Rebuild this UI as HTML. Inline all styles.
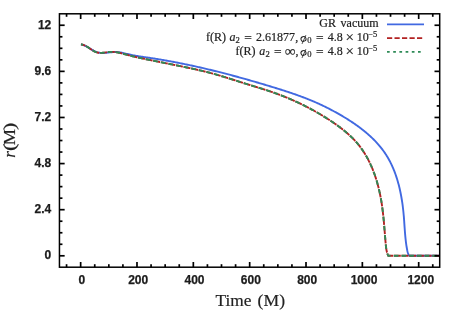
<!DOCTYPE html>
<html><head><meta charset="utf-8"><style>
html,body{margin:0;padding:0;background:#fff;}
svg{display:block;will-change:transform;opacity:0.9999;}
.tk{font-family:"Liberation Sans",sans-serif;font-weight:bold;font-size:12px;fill:#1c1c1c;stroke:#1c1c1c;stroke-width:0.25px;}
.sf{font-family:"Liberation Serif",serif;fill:#222;}
</style></head><body>
<svg width="464" height="330" viewBox="0 0 464 330">
<rect width="464" height="330" fill="#fff"/>
<g fill="none" stroke-linejoin="round" stroke-linecap="butt">
<path d="M80.98,44.36 L81.92,44.57 L82.84,44.85 L83.75,45.19 L84.64,45.57 L85.54,46.00 L86.42,46.47 L87.30,46.96 L88.17,47.48 L89.04,48.01 L89.91,48.54 L90.78,49.08 L91.66,49.61 L92.53,50.12 L93.41,50.61 L94.30,51.07 L95.20,51.49 L96.10,51.87 L97.02,52.19 L97.95,52.46 L98.89,52.66 L99.84,52.81 L100.80,52.91 L101.78,52.96 L102.76,52.98 L103.75,52.96 L104.75,52.91 L105.75,52.83 L106.76,52.74 L107.77,52.64 L108.78,52.53 L109.80,52.42 L110.81,52.31 L111.83,52.21 L112.84,52.13 L113.85,52.06 L114.86,52.03 L115.86,52.02 L116.86,52.05 L117.85,52.12 L118.83,52.22 L119.82,52.35 L120.79,52.51 L121.77,52.69 L122.74,52.88 L123.71,53.10 L124.68,53.33 L125.64,53.56 L126.61,53.80 L127.58,54.04 L128.55,54.28 L129.52,54.51 L130.49,54.74 L131.46,54.95 L132.44,55.15 L133.42,55.35 L134.40,55.53 L135.38,55.71 L136.37,55.88 L137.36,56.04 L138.34,56.20 L139.33,56.36 L140.32,56.51 L141.31,56.65 L142.30,56.80 L143.30,56.94 L144.29,57.08 L145.28,57.22 L146.27,57.36 L147.26,57.51 L148.25,57.65 L149.25,57.80 L150.24,57.94 L151.23,58.09 L152.21,58.25 L153.20,58.40 L154.19,58.55 L155.18,58.71 L156.17,58.87 L157.16,59.03 L158.14,59.19 L159.13,59.35 L160.12,59.51 L161.10,59.68 L162.09,59.85 L163.08,60.02 L164.06,60.19 L165.05,60.36 L166.03,60.53 L167.01,60.71 L168.00,60.88 L168.98,61.06 L169.97,61.24 L170.95,61.42 L171.93,61.60 L172.91,61.79 L173.89,61.97 L174.88,62.16 L175.86,62.35 L176.84,62.54 L177.82,62.73 L178.80,62.92 L179.78,63.11 L180.76,63.31 L181.74,63.51 L182.72,63.70 L183.70,63.90 L184.67,64.10 L185.65,64.31 L186.63,64.51 L187.61,64.71 L188.59,64.92 L189.56,65.13 L190.54,65.34 L191.52,65.55 L192.49,65.76 L193.47,65.97 L194.44,66.19 L195.42,66.40 L196.39,66.62 L197.37,66.84 L198.34,67.06 L199.32,67.28 L200.29,67.50 L201.26,67.72 L202.24,67.94 L203.21,68.17 L204.18,68.40 L205.15,68.62 L206.13,68.85 L207.10,69.08 L208.07,69.31 L209.04,69.55 L210.01,69.78 L210.98,70.02 L211.95,70.25 L212.92,70.49 L213.90,70.73 L214.87,70.97 L215.83,71.21 L216.80,71.45 L217.77,71.69 L218.74,71.94 L219.71,72.18 L220.68,72.43 L221.65,72.67 L222.62,72.92 L223.58,73.17 L224.55,73.42 L225.52,73.67 L226.49,73.93 L227.45,74.18 L228.42,74.43 L229.39,74.69 L230.35,74.95 L231.32,75.20 L232.29,75.46 L233.25,75.72 L234.22,75.98 L235.18,76.24 L236.15,76.50 L237.11,76.77 L238.08,77.03 L239.04,77.30 L240.01,77.56 L240.97,77.83 L241.94,78.10 L242.90,78.37 L243.86,78.64 L244.83,78.91 L245.79,79.18 L246.75,79.45 L247.72,79.72 L248.68,80.00 L249.64,80.27 L250.60,80.55 L251.57,80.82 L252.53,81.10 L253.49,81.38 L254.45,81.66 L255.41,81.94 L256.38,82.22 L257.34,82.50 L258.30,82.78 L259.26,83.06 L260.22,83.35 L261.18,83.63 L262.14,83.92 L263.10,84.20 L264.06,84.49 L265.02,84.78 L265.98,85.06 L266.94,85.35 L267.90,85.64 L268.86,85.93 L269.82,86.22 L270.78,86.51 L271.74,86.81 L272.70,87.10 L273.66,87.39 L274.62,87.69 L275.58,87.98 L276.53,88.28 L277.49,88.58 L278.45,88.88 L279.41,89.18 L280.36,89.48 L281.32,89.78 L282.27,90.08 L283.23,90.39 L284.18,90.70 L285.14,91.01 L286.09,91.32 L287.04,91.63 L287.99,91.94 L288.94,92.26 L289.89,92.58 L290.84,92.89 L291.79,93.22 L292.73,93.54 L293.68,93.87 L294.62,94.19 L295.57,94.52 L296.51,94.86 L297.45,95.19 L298.39,95.53 L299.33,95.87 L300.27,96.21 L301.20,96.56 L302.14,96.91 L303.07,97.26 L304.00,97.61 L304.93,97.97 L305.86,98.33 L306.79,98.69 L307.72,99.06 L308.64,99.42 L309.56,99.80 L310.48,100.17 L311.40,100.55 L312.32,100.93 L313.24,101.32 L314.15,101.71 L315.06,102.10 L315.97,102.50 L316.88,102.90 L317.79,103.30 L318.69,103.71 L319.60,104.12 L320.50,104.54 L321.39,104.96 L322.29,105.38 L323.18,105.81 L324.08,106.24 L324.97,106.67 L325.86,107.11 L326.74,107.56 L327.63,108.01 L328.51,108.46 L329.40,108.91 L330.28,109.37 L331.16,109.83 L332.04,110.30 L332.92,110.77 L333.80,111.24 L334.68,111.72 L335.55,112.20 L336.43,112.69 L337.30,113.18 L338.18,113.67 L339.05,114.16 L339.93,114.66 L340.80,115.17 L341.67,115.68 L342.54,116.19 L343.41,116.70 L344.28,117.22 L345.14,117.75 L346.01,118.28 L346.87,118.81 L347.73,119.34 L348.58,119.88 L349.44,120.43 L350.29,120.98 L351.14,121.53 L351.98,122.09 L352.83,122.65 L353.67,123.22 L354.50,123.79 L355.33,124.37 L356.16,124.95 L356.99,125.54 L357.81,126.13 L358.63,126.72 L359.44,127.32 L360.25,127.93 L361.05,128.54 L361.85,129.16 L362.64,129.78 L363.43,130.40 L364.22,131.03 L365.00,131.67 L365.77,132.31 L366.54,132.96 L367.30,133.61 L368.06,134.27 L368.81,134.93 L369.55,135.60 L370.29,136.27 L371.02,136.95 L371.75,137.64 L372.46,138.33 L373.18,139.03 L373.88,139.73 L374.58,140.44 L375.27,141.15 L375.95,141.87 L376.62,142.60 L377.29,143.33 L377.95,144.07 L378.60,144.81 L379.24,145.56 L379.88,146.32 L380.50,147.08 L381.12,147.85 L381.73,148.62 L382.33,149.41 L382.92,150.20 L383.50,150.99 L384.07,151.79 L384.63,152.60 L385.19,153.41 L385.73,154.24 L386.26,155.06 L386.79,155.90 L387.30,156.74 L387.80,157.59 L388.30,158.44 L388.78,159.30 L389.26,160.17 L389.72,161.04 L390.18,161.91 L390.62,162.80 L391.06,163.69 L391.49,164.58 L391.91,165.48 L392.32,166.38 L392.73,167.29 L393.12,168.21 L393.50,169.12 L393.88,170.05 L394.25,170.97 L394.61,171.91 L394.96,172.84 L395.31,173.78 L395.64,174.73 L395.97,175.67 L396.29,176.63 L396.61,177.58 L396.91,178.54 L397.21,179.50 L397.50,180.47 L397.78,181.43 L398.06,182.40 L398.33,183.38 L398.59,184.35 L398.84,185.33 L399.09,186.31 L399.33,187.30 L399.57,188.28 L399.79,189.27 L400.01,190.26 L400.23,191.25 L400.44,192.24 L400.64,193.24 L400.84,194.23 L401.03,195.23 L401.21,196.23 L401.39,197.23 L401.56,198.22 L401.73,199.22 L401.89,200.23 L402.05,201.23 L402.20,202.23 L402.34,203.23 L402.48,204.23 L402.62,205.23 L402.75,206.23 L402.87,207.24 L402.99,208.24 L403.11,209.24 L403.22,210.24 L403.33,211.23 L403.43,212.23 L403.53,213.23 L403.62,214.22 L403.71,215.22 L403.80,216.21 L403.88,217.20 L403.96,218.19 L404.03,219.18 L404.10,220.17 L404.18,221.15 L404.24,222.14 L404.31,223.12 L404.38,224.11 L404.45,225.09 L404.51,226.08 L404.58,227.06 L404.65,228.04 L404.72,229.02 L404.79,230.00 L404.86,230.99 L404.94,231.97 L405.01,232.95 L405.09,233.93 L405.18,234.92 L405.27,235.90 L405.36,236.88 L405.46,237.87 L405.56,238.85 L405.67,239.84 L405.78,240.82 L405.90,241.81 L406.03,242.80 L406.16,243.79 L406.30,244.78 L406.45,245.77 L406.61,246.77 L406.78,247.76 L406.95,248.76 L407.14,249.76 L407.34,250.75 L407.57,251.73 L407.84,252.70 L408.15,253.65 L408.52,254.57 L408.94,255.45 L409.50,255.80 L439.70,255.80" stroke="#4169e1" stroke-width="1.9"/>
<path d="M80.97,44.42 L81.46,44.48 L81.96,44.55 L82.44,44.67 L82.93,44.79 L83.40,44.94 L83.88,45.10 L84.34,45.29 L84.80,45.49 L85.25,45.70 L85.25,45.70 M85.87,46.02 L86.31,46.26 L86.74,46.51 L87.17,46.77 L87.60,47.03 L88.02,47.30 L88.44,47.58 L88.85,47.85 L89.27,48.13 L89.68,48.42 L90.09,48.70 L90.51,48.98 L90.92,49.26 L91.34,49.54 L91.75,49.81 L92.01,49.97 M92.68,50.40 L93.11,50.66 L93.54,50.91 L93.98,51.15 L94.42,51.39 L94.87,51.61 L95.33,51.82 L95.79,52.01 L96.25,52.19 L96.73,52.35 L97.21,52.48 L97.69,52.60 L98.18,52.70 L98.68,52.77 L99.18,52.82 L99.28,52.83 M100.07,52.88 L100.57,52.89 L101.07,52.88 L101.57,52.86 L102.07,52.83 L102.57,52.79 L103.07,52.75 L103.57,52.69 L104.06,52.63 L104.56,52.57 L105.05,52.50 L105.55,52.43 L106.04,52.36 L106.54,52.30 L106.93,52.24 M107.73,52.14 L108.22,52.08 L108.72,52.02 L109.22,51.97 L109.72,51.93 L110.22,51.90 L110.72,51.88 L111.22,51.87 L111.72,51.86 L112.22,51.87 L112.72,51.88 L113.21,51.91 L113.71,51.94 L114.21,51.98 L114.71,52.03 L114.71,52.03 M115.40,52.11 L115.90,52.17 L116.40,52.25 L116.89,52.32 L117.38,52.41 L117.87,52.50 L118.36,52.60 L118.85,52.70 L119.34,52.80 L119.83,52.91 L120.32,53.03 L120.80,53.14 L121.29,53.26 L121.77,53.39 L122.26,53.51 L122.26,53.51 M123.03,53.72 L123.51,53.85 L124.00,53.98 L124.48,54.11 L124.96,54.25 L125.44,54.38 L125.92,54.51 L126.40,54.65 L126.89,54.78 L127.37,54.91 L127.85,55.04 L128.33,55.17 L128.82,55.30 L129.30,55.43 L129.79,55.55 L129.79,55.55 M130.46,55.73 L130.95,55.85 L131.43,55.97 L131.92,56.09 L132.40,56.21 L132.89,56.33 L133.38,56.44 L133.86,56.56 L134.35,56.67 L134.84,56.79 L135.32,56.90 L135.81,57.01 L136.30,57.13 L136.79,57.24 L137.27,57.35 L137.37,57.37 M138.05,57.52 L138.54,57.63 L139.03,57.74 L139.52,57.84 L140.01,57.95 L140.50,58.05 L140.99,58.16 L141.47,58.26 L141.96,58.37 L142.45,58.47 L142.94,58.57 L143.43,58.68 L143.92,58.78 L144.41,58.88 L144.90,58.98 L144.90,58.98 M145.68,59.14 L146.17,59.24 L146.66,59.35 L147.15,59.45 L147.64,59.55 L148.13,59.65 L148.62,59.75 L149.11,59.85 L149.60,59.95 L150.09,60.05 L150.58,60.15 L151.07,60.25 L151.56,60.35 L152.05,60.45 L152.54,60.54 L152.54,60.54 M153.23,60.68 L153.72,60.78 L154.21,60.88 L154.70,60.98 L155.19,61.08 L155.68,61.18 L156.17,61.28 L156.66,61.38 L157.15,61.48 L157.64,61.57 L158.13,61.67 L158.62,61.77 L159.11,61.87 L159.60,61.97 L160.09,62.07 L160.09,62.07 M160.87,62.23 L161.36,62.32 L161.85,62.42 L162.34,62.52 L162.83,62.62 L163.32,62.72 L163.82,62.82 L164.31,62.91 L164.80,63.01 L165.29,63.11 L165.78,63.21 L166.27,63.31 L166.76,63.41 L167.25,63.51 L167.74,63.60 L167.74,63.60 M168.42,63.74 L168.91,63.84 L169.40,63.94 L169.89,64.04 L170.38,64.14 L170.87,64.24 L171.36,64.34 L171.85,64.43 L172.34,64.53 L172.83,64.63 L173.32,64.73 L173.81,64.83 L174.30,64.93 L174.79,65.03 L175.28,65.13 L175.28,65.13 M176.07,65.29 L176.56,65.39 L177.05,65.49 L177.54,65.59 L178.03,65.69 L178.52,65.79 L179.01,65.89 L179.50,65.99 L179.99,66.09 L180.48,66.19 L180.97,66.29 L181.46,66.39 L181.95,66.49 L182.44,66.59 L182.83,66.67 M183.61,66.84 L184.10,66.94 L184.59,67.04 L185.08,67.14 L185.57,67.24 L186.06,67.34 L186.55,67.45 L187.04,67.55 L187.53,67.65 L188.02,67.75 L188.51,67.86 L188.99,67.96 L189.48,68.07 L189.97,68.17 L190.46,68.27 L190.46,68.27 M191.24,68.44 L191.73,68.55 L192.22,68.65 L192.71,68.76 L193.20,68.86 L193.69,68.97 L194.18,69.08 L194.66,69.18 L195.15,69.29 L195.64,69.40 L196.13,69.51 L196.62,69.62 L197.10,69.73 L197.59,69.84 L198.08,69.95 L198.08,69.95 M198.76,70.10 L199.25,70.22 L199.74,70.33 L200.22,70.44 L200.71,70.56 L201.20,70.67 L201.68,70.78 L202.17,70.90 L202.66,71.02 L203.14,71.13 L203.63,71.25 L204.11,71.37 L204.60,71.49 L205.09,71.61 L205.57,71.73 L205.57,71.73 M206.35,71.92 L206.83,72.04 L207.32,72.16 L207.80,72.29 L208.29,72.41 L208.77,72.54 L209.25,72.66 L209.74,72.79 L210.22,72.92 L210.70,73.05 L211.19,73.18 L211.67,73.31 L212.15,73.44 L212.64,73.57 L213.12,73.70 L213.12,73.70 M213.89,73.91 L214.37,74.05 L214.85,74.18 L215.33,74.32 L215.81,74.46 L216.29,74.59 L216.78,74.73 L217.26,74.87 L217.74,75.01 L218.22,75.15 L218.70,75.29 L219.18,75.43 L219.66,75.57 L220.14,75.71 L220.61,75.85 L220.61,75.85 M221.38,76.08 L221.86,76.23 L222.34,76.37 L222.82,76.51 L223.30,76.66 L223.77,76.81 L224.25,76.95 L224.73,77.10 L225.21,77.24 L225.69,77.39 L226.16,77.54 L226.64,77.69 L227.12,77.83 L227.60,77.98 L228.07,78.13 L228.07,78.13 M228.84,78.37 L229.31,78.52 L229.79,78.67 L230.27,78.82 L230.75,78.97 L231.22,79.12 L231.70,79.27 L232.18,79.42 L232.65,79.57 L233.13,79.72 L233.61,79.88 L234.08,80.03 L234.56,80.18 L235.04,80.33 L235.51,80.48 L235.51,80.48 M236.27,80.72 L236.75,80.88 L237.23,81.03 L237.70,81.18 L238.18,81.33 L238.66,81.48 L239.13,81.63 L239.61,81.79 L240.09,81.94 L240.56,82.09 L241.04,82.24 L241.51,82.39 L241.99,82.54 L242.47,82.70 L242.94,82.85 L242.94,82.85 M243.71,83.09 L244.18,83.24 L244.66,83.39 L245.14,83.54 L245.61,83.69 L246.09,83.84 L246.57,83.99 L247.05,84.14 L247.52,84.29 L248.00,84.43 L248.48,84.58 L248.96,84.73 L249.43,84.88 L249.91,85.03 L250.39,85.17 L250.39,85.17 M251.15,85.41 L251.63,85.56 L252.11,85.70 L252.59,85.85 L253.07,86.00 L253.54,86.14 L254.02,86.29 L254.50,86.44 L254.98,86.58 L255.46,86.73 L255.93,86.88 L256.41,87.03 L256.89,87.17 L257.37,87.32 L257.84,87.47 L257.94,87.50 M258.61,87.70 L259.09,87.85 L259.56,88.00 L260.04,88.15 L260.52,88.30 L261.00,88.45 L261.47,88.60 L261.95,88.75 L262.43,88.90 L262.90,89.05 L263.38,89.20 L263.86,89.35 L264.33,89.50 L264.81,89.65 L265.29,89.81 L265.38,89.84 M266.05,90.05 L266.52,90.21 L267.00,90.36 L267.47,90.52 L267.95,90.67 L268.42,90.83 L268.90,90.99 L269.37,91.15 L269.85,91.31 L270.32,91.47 L270.79,91.63 L271.27,91.79 L271.74,91.95 L272.21,92.11 L272.68,92.28 L272.78,92.31 M273.53,92.57 L274.00,92.74 L274.48,92.91 L274.95,93.07 L275.42,93.24 L275.89,93.41 L276.36,93.58 L276.83,93.76 L277.30,93.93 L277.77,94.10 L278.23,94.27 L278.70,94.45 L279.17,94.63 L279.64,94.80 L280.11,94.98 L280.11,94.98 M280.85,95.27 L281.32,95.45 L281.79,95.63 L282.25,95.81 L282.72,95.99 L283.18,96.17 L283.65,96.36 L284.11,96.54 L284.58,96.73 L285.04,96.92 L285.50,97.10 L285.97,97.29 L286.43,97.48 L286.89,97.67 L287.35,97.86 L287.45,97.90 M288.18,98.21 L288.65,98.40 L289.11,98.60 L289.57,98.79 L290.03,98.99 L290.49,99.19 L290.95,99.38 L291.40,99.58 L291.86,99.78 L292.32,99.98 L292.78,100.18 L293.24,100.39 L293.69,100.59 L294.15,100.79 L294.60,101.00 L294.70,101.04 M295.42,101.37 L295.88,101.58 L296.33,101.78 L296.79,101.99 L297.24,102.20 L297.70,102.41 L298.15,102.63 L298.60,102.84 L299.05,103.05 L299.51,103.27 L299.96,103.48 L300.41,103.70 L300.86,103.91 L301.31,104.13 L301.76,104.35 L301.85,104.39 M302.57,104.75 L303.01,104.97 L303.46,105.19 L303.91,105.41 L304.36,105.64 L304.80,105.86 L305.25,106.09 L305.70,106.31 L306.14,106.54 L306.59,106.77 L307.03,107.00 L307.48,107.22 L307.92,107.46 L308.36,107.69 L308.81,107.92 L308.98,108.01 M309.69,108.39 L310.13,108.62 L310.57,108.86 L311.01,109.09 L311.45,109.33 L311.89,109.57 L312.33,109.81 L312.77,110.05 L313.21,110.29 L313.65,110.53 L314.08,110.77 L314.52,111.02 L314.96,111.26 L315.39,111.51 L315.83,111.75 L316.00,111.85 M316.70,112.25 L317.13,112.49 L317.56,112.74 L318.00,112.99 L318.43,113.24 L318.86,113.50 L319.29,113.75 L319.72,114.00 L320.15,114.26 L320.58,114.51 L321.01,114.77 L321.44,115.02 L321.87,115.28 L322.30,115.54 L322.73,115.80 L322.90,115.90 M323.58,116.32 L324.01,116.58 L324.43,116.85 L324.86,117.11 L325.28,117.37 L325.70,117.64 L326.13,117.91 L326.55,118.17 L326.97,118.44 L327.39,118.71 L327.82,118.98 L328.24,119.25 L328.66,119.52 L329.08,119.79 L329.50,120.06 L329.75,120.23 M330.42,120.67 L330.83,120.94 L331.25,121.22 L331.67,121.50 L332.08,121.77 L332.50,122.05 L332.91,122.33 L333.32,122.61 L333.74,122.90 L334.15,123.18 L334.56,123.46 L334.97,123.75 L335.38,124.03 L335.79,124.32 L336.20,124.61 L336.44,124.78 M337.10,125.25 L337.50,125.54 L337.91,125.83 L338.31,126.13 L338.71,126.42 L339.12,126.72 L339.52,127.02 L339.92,127.32 L340.32,127.62 L340.72,127.92 L341.11,128.22 L341.51,128.53 L341.91,128.83 L342.30,129.14 L342.69,129.45 L343.01,129.70 M343.63,130.20 L344.02,130.51 L344.41,130.83 L344.80,131.14 L345.18,131.46 L345.57,131.78 L345.95,132.10 L346.33,132.43 L346.71,132.75 L347.09,133.08 L347.47,133.40 L347.84,133.74 L348.22,134.07 L348.59,134.40 L348.96,134.73 L349.33,135.07 L349.33,135.07 M349.92,135.61 L350.28,135.95 L350.65,136.30 L351.01,136.64 L351.37,136.99 L351.73,137.34 L352.09,137.69 L352.44,138.04 L352.79,138.39 L353.15,138.75 L353.50,139.11 L353.84,139.46 L354.19,139.83 L354.53,140.19 L354.87,140.56 L355.21,140.92 L355.28,141.00 M355.82,141.59 L356.15,141.96 L356.48,142.34 L356.81,142.71 L357.14,143.09 L357.46,143.47 L357.78,143.85 L358.10,144.24 L358.42,144.63 L358.73,145.02 L359.05,145.41 L359.36,145.80 L359.66,146.19 L359.97,146.59 L360.27,146.99 L360.57,147.39 L360.69,147.55 M361.16,148.19 L361.45,148.60 L361.74,149.01 L362.03,149.42 L362.32,149.83 L362.60,150.24 L362.88,150.65 L363.16,151.07 L363.43,151.49 L363.71,151.90 L363.98,152.32 L364.25,152.75 L364.51,153.17 L364.78,153.59 L365.04,154.02 L365.30,154.45 L365.50,154.79 M365.96,155.57 L366.21,156.00 L366.46,156.43 L366.71,156.87 L366.95,157.30 L367.19,157.74 L367.43,158.18 L367.67,158.62 L367.90,159.06 L368.14,159.50 L368.37,159.95 L368.60,160.39 L368.82,160.84 L369.05,161.28 L369.27,161.73 L369.49,162.18 L369.71,162.63 L369.71,162.63 M370.09,163.44 L370.31,163.90 L370.52,164.35 L370.72,164.81 L370.93,165.26 L371.13,165.72 L371.33,166.18 L371.53,166.63 L371.73,167.09 L371.93,167.55 L372.12,168.01 L372.31,168.48 L372.50,168.94 L372.69,169.40 L372.88,169.87 L373.06,170.33 L373.24,170.80 L373.28,170.89 M373.60,171.73 L373.77,172.20 L373.95,172.67 L374.12,173.14 L374.29,173.61 L374.46,174.08 L374.63,174.55 L374.79,175.02 L374.96,175.49 L375.12,175.97 L375.28,176.44 L375.44,176.92 L375.59,177.39 L375.75,177.87 L375.90,178.34 L376.05,178.82 L376.20,179.30 L376.26,179.49 M376.52,180.35 L376.67,180.83 L376.81,181.30 L376.95,181.78 L377.09,182.27 L377.23,182.75 L377.36,183.23 L377.50,183.71 L377.63,184.19 L377.76,184.67 L377.89,185.16 L378.02,185.64 L378.14,186.12 L378.27,186.61 L378.39,187.09 L378.51,187.58 L378.63,188.06 L378.68,188.26 M378.89,189.13 L379.01,189.62 L379.12,190.10 L379.23,190.59 L379.35,191.08 L379.46,191.57 L379.56,192.06 L379.67,192.54 L379.78,193.03 L379.88,193.52 L379.98,194.01 L380.08,194.50 L380.18,194.99 L380.28,195.48 L380.38,195.97 L380.47,196.46 L380.57,196.95 L380.64,197.35 M380.81,198.23 L380.90,198.72 L380.99,199.22 L381.07,199.71 L381.16,200.20 L381.24,200.69 L381.33,201.19 L381.41,201.68 L381.49,202.17 L381.57,202.67 L381.65,203.16 L381.72,203.65 L381.80,204.15 L381.87,204.64 L381.95,205.14 L382.02,205.63 L382.09,206.13 L382.13,206.42 M382.26,207.32 L382.32,207.81 L382.39,208.31 L382.46,208.80 L382.52,209.30 L382.58,209.79 L382.64,210.29 L382.71,210.79 L382.77,211.28 L382.83,211.78 L382.88,212.28 L382.94,212.77 L383.00,213.27 L383.06,213.77 L383.11,214.26 L383.17,214.76 L383.22,215.26 L383.26,215.65 M383.36,216.55 L383.41,217.05 L383.46,217.54 L383.51,218.04 L383.56,218.54 L383.60,219.04 L383.65,219.54 L383.70,220.03 L383.75,220.53 L383.79,221.03 L383.84,221.53 L383.88,222.02 L383.93,222.52 L383.97,223.02 L384.02,223.52 L384.06,224.02 L384.10,224.51 L384.14,224.91 M384.21,225.81 L384.26,226.31 L384.30,226.81 L384.34,227.30 L384.38,227.80 L384.42,228.30 L384.46,228.80 L384.50,229.30 L384.54,229.80 L384.58,230.29 L384.62,230.79 L384.66,231.29 L384.70,231.79 L384.74,232.29 L384.78,232.79 L384.82,233.29 L384.86,233.78 L384.90,234.18 M384.97,235.08 L385.01,235.58 L385.05,236.08 L385.09,236.57 L385.13,237.07 L385.17,237.57 L385.21,238.07 L385.26,238.57 L385.30,239.07 L385.34,239.56 L385.38,240.06 L385.42,240.56 L385.47,241.06 L385.51,241.56 L385.55,242.05 L385.60,242.55 L385.64,243.05 L385.68,243.45 M385.76,244.35 L385.81,244.84 L385.85,245.34 L385.91,245.84 L385.96,246.34 L386.02,246.83 L386.07,247.33 L386.14,247.82 L386.20,248.32 L386.28,248.81 L386.36,249.31 L386.44,249.80 L386.53,250.29 L386.63,250.78 L386.74,251.27 L386.86,251.76 L386.98,252.24 L387.09,252.63 M387.35,253.49 L387.51,253.96 L387.68,254.43 L387.87,254.90 L388.07,255.35 L388.30,255.80 L388.80,255.80 L389.30,255.80 L389.80,255.80 L390.30,255.80 L390.80,255.80 L391.30,255.80 L391.80,255.80 L392.30,255.80 L392.80,255.80 L393.10,255.80 M393.80,255.80 L394.30,255.80 L394.80,255.80 L395.30,255.80 L395.80,255.80 L396.30,255.80 L396.80,255.80 L397.30,255.80 L397.80,255.80 L398.30,255.80 L398.80,255.80 L399.30,255.80 L399.80,255.80 L400.30,255.80 L400.80,255.80 L400.80,255.80 M401.50,255.80 L402.00,255.80 L402.50,255.80 L403.00,255.80 L403.50,255.80 L404.00,255.80 L404.50,255.80 L405.00,255.80 L405.50,255.80 L406.00,255.80 L406.50,255.80 L407.00,255.80 L407.50,255.80 L408.00,255.80 L408.50,255.80 L408.50,255.80 M409.20,255.80 L409.70,255.80 L410.20,255.80 L410.70,255.80 L411.20,255.80 L411.70,255.80 L412.20,255.80 L412.70,255.80 L413.20,255.80 L413.70,255.80 L414.20,255.80 L414.70,255.80 L415.20,255.80 L415.70,255.80 L416.20,255.80 L416.20,255.80 M416.90,255.80 L417.40,255.80 L417.90,255.80 L418.40,255.80 L418.90,255.80 L419.40,255.80 L419.90,255.80 L420.40,255.80 L420.90,255.80 L421.40,255.80 L421.90,255.80 L422.40,255.80 L422.90,255.80 L423.40,255.80 L423.90,255.80 L423.90,255.80 M424.60,255.80 L425.10,255.80 L425.60,255.80 L426.10,255.80 L426.60,255.80 L427.10,255.80 L427.60,255.80 L428.10,255.80 L428.60,255.80 L429.10,255.80 L429.60,255.80 L430.10,255.80 L430.60,255.80 L431.10,255.80 L431.60,255.80 L431.60,255.80 M432.30,255.80 L432.80,255.80 L433.30,255.80 L433.80,255.80 L434.30,255.80 L434.80,255.80 L435.30,255.80 L435.80,255.80 L436.30,255.80 L436.80,255.80 L437.30,255.80 L437.80,255.80 L438.30,255.80 L438.80,255.80 L439.30,255.80 L439.30,255.80" stroke="#b22222" stroke-width="1.9"/>
<path d="M80.97,44.42 L81.46,44.48 L81.96,44.55 L82.44,44.67 L82.93,44.79 L83.12,44.85 M85.87,46.02 L86.31,46.26 L86.74,46.51 L87.17,46.77 L87.60,47.03 L88.02,47.30 L88.44,47.58 L88.85,47.85 L89.27,48.13 L89.68,48.42 L89.85,48.53 M92.68,50.40 L93.11,50.66 L93.54,50.91 L93.98,51.15 L94.42,51.39 L94.87,51.61 L95.33,51.82 L95.79,52.01 L96.25,52.19 L96.73,52.35 L96.92,52.41 M100.07,52.88 L100.57,52.89 L101.07,52.88 L101.57,52.86 L102.07,52.83 L102.57,52.79 L103.07,52.75 L103.57,52.69 L104.06,52.63 L104.56,52.57 L104.76,52.54 M107.73,52.14 L108.22,52.08 L108.72,52.02 L109.22,51.97 L109.72,51.93 L110.22,51.90 L110.72,51.88 L111.22,51.87 L111.72,51.86 L112.22,51.87 L112.42,51.87 M115.40,52.11 L115.90,52.17 L116.40,52.25 L116.89,52.32 L117.38,52.41 L117.87,52.50 L118.36,52.60 L118.85,52.70 L119.34,52.80 L119.83,52.91 L120.03,52.96 M123.03,53.72 L123.51,53.85 L124.00,53.98 L124.48,54.11 L124.96,54.25 L125.44,54.38 L125.92,54.51 L126.40,54.65 L126.89,54.78 L127.37,54.91 L127.56,54.96 M130.46,55.73 L130.95,55.85 L131.43,55.97 L131.92,56.09 L132.40,56.21 L132.89,56.33 L133.38,56.44 L133.86,56.56 L134.35,56.67 L134.84,56.79 L135.03,56.83 M138.05,57.52 L138.54,57.63 L139.03,57.74 L139.52,57.84 L140.01,57.95 L140.50,58.05 L140.99,58.16 L141.47,58.26 L141.96,58.37 L142.45,58.47 L142.65,58.51 M145.68,59.14 L146.17,59.24 L146.66,59.35 L147.15,59.45 L147.64,59.55 L148.13,59.65 L148.62,59.75 L149.11,59.85 L149.60,59.95 L150.09,60.05 L150.29,60.09 M153.23,60.68 L153.72,60.78 L154.21,60.88 L154.70,60.98 L155.19,61.08 L155.68,61.18 L156.17,61.28 L156.66,61.38 L157.15,61.48 L157.64,61.57 L157.83,61.61 M160.87,62.23 L161.36,62.32 L161.85,62.42 L162.34,62.52 L162.83,62.62 L163.32,62.72 L163.82,62.82 L164.31,62.91 L164.80,63.01 L165.29,63.11 L165.48,63.15 M168.42,63.74 L168.91,63.84 L169.40,63.94 L169.89,64.04 L170.38,64.14 L170.87,64.24 L171.36,64.34 L171.85,64.43 L172.34,64.53 L172.83,64.63 L173.03,64.67 M176.07,65.29 L176.56,65.39 L177.05,65.49 L177.54,65.59 L178.03,65.69 L178.52,65.79 L179.01,65.89 L179.50,65.99 L179.99,66.09 L180.48,66.19 L180.67,66.23 M183.61,66.84 L184.10,66.94 L184.59,67.04 L185.08,67.14 L185.57,67.24 L186.06,67.34 L186.55,67.45 L187.04,67.55 L187.53,67.65 L188.02,67.75 L188.21,67.80 M191.24,68.44 L191.73,68.55 L192.22,68.65 L192.71,68.76 L193.20,68.86 L193.69,68.97 L194.18,69.08 L194.66,69.18 L195.15,69.29 L195.64,69.40 L195.84,69.44 M198.76,70.10 L199.25,70.22 L199.74,70.33 L200.22,70.44 L200.71,70.56 L201.20,70.67 L201.68,70.78 L202.17,70.90 L202.66,71.02 L203.14,71.13 L203.34,71.18 M206.35,71.92 L206.83,72.04 L207.32,72.16 L207.80,72.29 L208.29,72.41 L208.77,72.54 L209.25,72.66 L209.74,72.79 L210.22,72.92 L210.70,73.05 L210.90,73.10 M213.89,73.91 L214.37,74.05 L214.85,74.18 L215.33,74.32 L215.81,74.46 L216.29,74.59 L216.78,74.73 L217.26,74.87 L217.74,75.01 L218.22,75.15 L218.41,75.20 M221.38,76.08 L221.86,76.23 L222.34,76.37 L222.82,76.51 L223.30,76.66 L223.77,76.81 L224.25,76.95 L224.73,77.10 L225.21,77.24 L225.69,77.39 L225.88,77.45 M228.84,78.37 L229.31,78.52 L229.79,78.67 L230.27,78.82 L230.75,78.97 L231.22,79.12 L231.70,79.27 L232.18,79.42 L232.65,79.57 L233.13,79.72 L233.32,79.78 M236.27,80.72 L236.75,80.88 L237.23,81.03 L237.70,81.18 L238.18,81.33 L238.66,81.48 L239.13,81.63 L239.61,81.79 L240.09,81.94 L240.56,82.09 L240.75,82.15 M243.71,83.09 L244.18,83.24 L244.66,83.39 L245.14,83.54 L245.61,83.69 L246.09,83.84 L246.57,83.99 L247.05,84.14 L247.52,84.29 L248.00,84.43 L248.19,84.49 M251.15,85.41 L251.63,85.56 L252.11,85.70 L252.59,85.85 L253.07,86.00 L253.54,86.14 L254.02,86.29 L254.50,86.44 L254.98,86.58 L255.46,86.73 L255.65,86.79 M258.61,87.70 L259.09,87.85 L259.56,88.00 L260.04,88.15 L260.52,88.30 L261.00,88.45 L261.47,88.60 L261.95,88.75 L262.43,88.90 L262.90,89.05 L263.09,89.11 M266.05,90.05 L266.52,90.21 L267.00,90.36 L267.47,90.52 L267.95,90.67 L268.42,90.83 L268.90,90.99 L269.37,91.15 L269.85,91.31 L270.32,91.47 L270.51,91.53 M273.53,92.57 L274.00,92.74 L274.48,92.91 L274.95,93.07 L275.42,93.24 L275.89,93.41 L276.36,93.58 L276.83,93.76 L277.30,93.93 L277.77,94.10 L277.95,94.17 M280.85,95.27 L281.32,95.45 L281.79,95.63 L282.25,95.81 L282.72,95.99 L283.18,96.17 L283.65,96.36 L284.11,96.54 L284.58,96.73 L285.04,96.92 L285.23,96.99 M288.18,98.21 L288.65,98.40 L289.11,98.60 L289.57,98.79 L290.03,98.99 L290.49,99.19 L290.95,99.38 L291.40,99.58 L291.86,99.78 L292.32,99.98 L292.50,100.06 M295.42,101.37 L295.88,101.58 L296.33,101.78 L296.79,101.99 L297.24,102.20 L297.70,102.41 L298.15,102.63 L298.60,102.84 L299.05,103.05 L299.51,103.27 L299.69,103.35 M302.57,104.75 L303.01,104.97 L303.46,105.19 L303.91,105.41 L304.36,105.64 L304.80,105.86 L305.25,106.09 L305.70,106.31 L306.14,106.54 L306.59,106.77 L306.76,106.86 M309.69,108.39 L310.13,108.62 L310.57,108.86 L311.01,109.09 L311.45,109.33 L311.89,109.57 L312.33,109.81 L312.77,110.05 L313.21,110.29 L313.65,110.53 L313.82,110.63 M316.70,112.25 L317.13,112.49 L317.56,112.74 L318.00,112.99 L318.43,113.24 L318.86,113.50 L319.29,113.75 L319.72,114.00 L320.15,114.26 L320.58,114.51 L320.76,114.61 M323.58,116.32 L324.01,116.58 L324.43,116.85 L324.86,117.11 L325.28,117.37 L325.70,117.64 L326.13,117.91 L326.55,118.17 L326.97,118.44 L327.39,118.71 L327.56,118.82 M330.42,120.67 L330.83,120.94 L331.25,121.22 L331.67,121.50 L332.08,121.77 L332.50,122.05 L332.91,122.33 L333.32,122.61 L333.74,122.90 L334.15,123.18 L334.31,123.29 M337.10,125.25 L337.50,125.54 L337.91,125.83 L338.31,126.13 L338.71,126.42 L339.12,126.72 L339.52,127.02 L339.92,127.32 L340.32,127.62 L340.72,127.92 L340.88,128.04 M343.63,130.20 L344.02,130.51 L344.41,130.83 L344.80,131.14 L345.18,131.46 L345.57,131.78 L345.95,132.10 L346.33,132.43 L346.71,132.75 L347.09,133.08 L347.24,133.21 M349.92,135.61 L350.28,135.95 L350.65,136.30 L351.01,136.64 L351.37,136.99 L351.73,137.34 L352.09,137.69 L352.44,138.04 L352.79,138.39 L353.15,138.75 L353.29,138.89 M355.82,141.59 L356.15,141.96 L356.48,142.34 L356.81,142.71 L357.14,143.09 L357.46,143.47 L357.78,143.85 L358.10,144.24 L358.42,144.63 L358.73,145.02 L358.86,145.17 M361.16,148.19 L361.45,148.60 L361.74,149.01 L362.03,149.42 L362.32,149.83 L362.60,150.24 L362.88,150.65 L363.16,151.07 L363.43,151.49 L363.71,151.90 L363.82,152.07 M365.96,155.57 L366.21,156.00 L366.46,156.43 L366.71,156.87 L366.95,157.30 L367.19,157.74 L367.43,158.18 L367.67,158.62 L367.90,159.06 L368.14,159.50 L368.23,159.68 M370.09,163.44 L370.31,163.90 L370.52,164.35 L370.72,164.81 L370.93,165.26 L371.13,165.72 L371.33,166.18 L371.53,166.63 L371.73,167.09 L371.93,167.55 L372.01,167.74 M373.60,171.73 L373.77,172.20 L373.95,172.67 L374.12,173.14 L374.29,173.61 L374.46,174.08 L374.63,174.55 L374.79,175.02 L374.96,175.49 L375.12,175.97 L375.18,176.16 M376.52,180.35 L376.67,180.83 L376.81,181.30 L376.95,181.78 L377.09,182.27 L377.23,182.75 L377.36,183.23 L377.50,183.71 L377.63,184.19 L377.76,184.67 L377.81,184.87 M378.89,189.13 L379.01,189.62 L379.12,190.10 L379.23,190.59 L379.35,191.08 L379.46,191.57 L379.56,192.06 L379.67,192.54 L379.78,193.03 L379.88,193.52 L379.92,193.72 M380.81,198.23 L380.90,198.72 L380.99,199.22 L381.07,199.71 L381.16,200.20 L381.24,200.69 L381.33,201.19 L381.41,201.68 L381.49,202.17 L381.57,202.67 L381.60,202.86 M382.26,207.32 L382.32,207.81 L382.39,208.31 L382.46,208.80 L382.52,209.30 L382.58,209.79 L382.64,210.29 L382.71,210.79 L382.77,211.28 L382.83,211.78 L382.85,211.98 M383.36,216.55 L383.41,217.05 L383.46,217.54 L383.51,218.04 L383.56,218.54 L383.60,219.04 L383.65,219.54 L383.70,220.03 L383.75,220.53 L383.79,221.03 L383.81,221.23 M384.21,225.81 L384.26,226.31 L384.30,226.81 L384.34,227.30 L384.38,227.80 L384.42,228.30 L384.46,228.80 L384.50,229.30 L384.54,229.80 L384.58,230.29 L384.60,230.49 M384.97,235.08 L385.01,235.58 L385.05,236.08 L385.09,236.57 L385.13,237.07 L385.17,237.57 L385.21,238.07 L385.26,238.57 L385.30,239.07 L385.34,239.56 L385.36,239.76 M385.76,244.35 L385.81,244.84 L385.85,245.34 L385.91,245.84 L385.96,246.34 L386.02,246.83 L386.07,247.33 L386.14,247.82 L386.20,248.32 L386.28,248.81 L386.31,249.01 M387.35,253.49 L387.51,253.96 L387.68,254.43 L387.87,254.90 L388.07,255.35 L388.30,255.80 L388.80,255.80 L389.30,255.80 L389.80,255.80 L390.30,255.80 L390.50,255.80 M393.80,255.80 L394.30,255.80 L394.80,255.80 L395.30,255.80 L395.80,255.80 L396.30,255.80 L396.80,255.80 L397.30,255.80 L397.80,255.80 L398.30,255.80 L398.50,255.80 M401.50,255.80 L402.00,255.80 L402.50,255.80 L403.00,255.80 L403.50,255.80 L404.00,255.80 L404.50,255.80 L405.00,255.80 L405.50,255.80 L406.00,255.80 L406.20,255.80 M409.20,255.80 L409.70,255.80 L410.20,255.80 L410.70,255.80 L411.20,255.80 L411.70,255.80 L412.20,255.80 L412.70,255.80 L413.20,255.80 L413.70,255.80 L413.90,255.80 M416.90,255.80 L417.40,255.80 L417.90,255.80 L418.40,255.80 L418.90,255.80 L419.40,255.80 L419.90,255.80 L420.40,255.80 L420.90,255.80 L421.40,255.80 L421.60,255.80 M424.60,255.80 L425.10,255.80 L425.60,255.80 L426.10,255.80 L426.60,255.80 L427.10,255.80 L427.60,255.80 L428.10,255.80 L428.60,255.80 L429.10,255.80 L429.30,255.80 M432.30,255.80 L432.80,255.80 L433.30,255.80 L433.80,255.80 L434.30,255.80 L434.80,255.80 L435.30,255.80 L435.80,255.80 L436.30,255.80 L436.80,255.80 L437.00,255.80" stroke="#2e8b57" stroke-width="1.9"/>
</g>
<g stroke="#000" stroke-width="1.7"><line x1="66.56" y1="267.2" x2="66.56" y2="264.2"/><line x1="66.56" y1="13.8" x2="66.56" y2="16.8"/><line x1="80.65" y1="267.2" x2="80.65" y2="262.0"/><line x1="80.65" y1="13.8" x2="80.65" y2="19.0"/><line x1="94.74" y1="267.2" x2="94.74" y2="264.2"/><line x1="94.74" y1="13.8" x2="94.74" y2="16.8"/><line x1="108.82" y1="267.2" x2="108.82" y2="264.2"/><line x1="108.82" y1="13.8" x2="108.82" y2="16.8"/><line x1="122.91" y1="267.2" x2="122.91" y2="264.2"/><line x1="122.91" y1="13.8" x2="122.91" y2="16.8"/><line x1="136.99" y1="267.2" x2="136.99" y2="262.0"/><line x1="136.99" y1="13.8" x2="136.99" y2="19.0"/><line x1="151.07" y1="267.2" x2="151.07" y2="264.2"/><line x1="151.07" y1="13.8" x2="151.07" y2="16.8"/><line x1="165.16" y1="267.2" x2="165.16" y2="264.2"/><line x1="165.16" y1="13.8" x2="165.16" y2="16.8"/><line x1="179.25" y1="267.2" x2="179.25" y2="264.2"/><line x1="179.25" y1="13.8" x2="179.25" y2="16.8"/><line x1="193.33" y1="267.2" x2="193.33" y2="262.0"/><line x1="193.33" y1="13.8" x2="193.33" y2="19.0"/><line x1="207.42" y1="267.2" x2="207.42" y2="264.2"/><line x1="207.42" y1="13.8" x2="207.42" y2="16.8"/><line x1="221.50" y1="267.2" x2="221.50" y2="264.2"/><line x1="221.50" y1="13.8" x2="221.50" y2="16.8"/><line x1="235.59" y1="267.2" x2="235.59" y2="264.2"/><line x1="235.59" y1="13.8" x2="235.59" y2="16.8"/><line x1="249.67" y1="267.2" x2="249.67" y2="262.0"/><line x1="249.67" y1="13.8" x2="249.67" y2="19.0"/><line x1="263.75" y1="267.2" x2="263.75" y2="264.2"/><line x1="263.75" y1="13.8" x2="263.75" y2="16.8"/><line x1="277.84" y1="267.2" x2="277.84" y2="264.2"/><line x1="277.84" y1="13.8" x2="277.84" y2="16.8"/><line x1="291.93" y1="267.2" x2="291.93" y2="264.2"/><line x1="291.93" y1="13.8" x2="291.93" y2="16.8"/><line x1="306.01" y1="267.2" x2="306.01" y2="262.0"/><line x1="306.01" y1="13.8" x2="306.01" y2="19.0"/><line x1="320.10" y1="267.2" x2="320.10" y2="264.2"/><line x1="320.10" y1="13.8" x2="320.10" y2="16.8"/><line x1="334.18" y1="267.2" x2="334.18" y2="264.2"/><line x1="334.18" y1="13.8" x2="334.18" y2="16.8"/><line x1="348.26" y1="267.2" x2="348.26" y2="264.2"/><line x1="348.26" y1="13.8" x2="348.26" y2="16.8"/><line x1="362.35" y1="267.2" x2="362.35" y2="262.0"/><line x1="362.35" y1="13.8" x2="362.35" y2="19.0"/><line x1="376.44" y1="267.2" x2="376.44" y2="264.2"/><line x1="376.44" y1="13.8" x2="376.44" y2="16.8"/><line x1="390.52" y1="267.2" x2="390.52" y2="264.2"/><line x1="390.52" y1="13.8" x2="390.52" y2="16.8"/><line x1="404.61" y1="267.2" x2="404.61" y2="264.2"/><line x1="404.61" y1="13.8" x2="404.61" y2="16.8"/><line x1="418.69" y1="267.2" x2="418.69" y2="262.0"/><line x1="418.69" y1="13.8" x2="418.69" y2="19.0"/><line x1="432.77" y1="267.2" x2="432.77" y2="264.2"/><line x1="432.77" y1="13.8" x2="432.77" y2="16.8"/><line x1="59.45" y1="255.80" x2="64.65" y2="255.80"/><line x1="439.7" y1="255.80" x2="434.5" y2="255.80"/><line x1="59.45" y1="244.27" x2="62.45" y2="244.27"/><line x1="439.7" y1="244.27" x2="436.7" y2="244.27"/><line x1="59.45" y1="232.75" x2="62.45" y2="232.75"/><line x1="439.7" y1="232.75" x2="436.7" y2="232.75"/><line x1="59.45" y1="221.22" x2="62.45" y2="221.22"/><line x1="439.7" y1="221.22" x2="436.7" y2="221.22"/><line x1="59.45" y1="209.69" x2="64.65" y2="209.69"/><line x1="439.7" y1="209.69" x2="434.5" y2="209.69"/><line x1="59.45" y1="198.16" x2="62.45" y2="198.16"/><line x1="439.7" y1="198.16" x2="436.7" y2="198.16"/><line x1="59.45" y1="186.63" x2="62.45" y2="186.63"/><line x1="439.7" y1="186.63" x2="436.7" y2="186.63"/><line x1="59.45" y1="175.11" x2="62.45" y2="175.11"/><line x1="439.7" y1="175.11" x2="436.7" y2="175.11"/><line x1="59.45" y1="163.58" x2="64.65" y2="163.58"/><line x1="439.7" y1="163.58" x2="434.5" y2="163.58"/><line x1="59.45" y1="152.05" x2="62.45" y2="152.05"/><line x1="439.7" y1="152.05" x2="436.7" y2="152.05"/><line x1="59.45" y1="140.53" x2="62.45" y2="140.53"/><line x1="439.7" y1="140.53" x2="436.7" y2="140.53"/><line x1="59.45" y1="129.00" x2="62.45" y2="129.00"/><line x1="439.7" y1="129.00" x2="436.7" y2="129.00"/><line x1="59.45" y1="117.47" x2="64.65" y2="117.47"/><line x1="439.7" y1="117.47" x2="434.5" y2="117.47"/><line x1="59.45" y1="105.94" x2="62.45" y2="105.94"/><line x1="439.7" y1="105.94" x2="436.7" y2="105.94"/><line x1="59.45" y1="94.41" x2="62.45" y2="94.41"/><line x1="439.7" y1="94.41" x2="436.7" y2="94.41"/><line x1="59.45" y1="82.89" x2="62.45" y2="82.89"/><line x1="439.7" y1="82.89" x2="436.7" y2="82.89"/><line x1="59.45" y1="71.36" x2="64.65" y2="71.36"/><line x1="439.7" y1="71.36" x2="434.5" y2="71.36"/><line x1="59.45" y1="59.83" x2="62.45" y2="59.83"/><line x1="439.7" y1="59.83" x2="436.7" y2="59.83"/><line x1="59.45" y1="48.31" x2="62.45" y2="48.31"/><line x1="439.7" y1="48.31" x2="436.7" y2="48.31"/><line x1="59.45" y1="36.78" x2="62.45" y2="36.78"/><line x1="439.7" y1="36.78" x2="436.7" y2="36.78"/><line x1="59.45" y1="25.25" x2="64.65" y2="25.25"/><line x1="439.7" y1="25.25" x2="434.5" y2="25.25"/></g>
<rect x="59.45" y="13.8" width="380.25" height="253.39999999999998" fill="none" stroke="#000" stroke-width="1.5"/>
<g class="tk"><text x="81.85" y="283.8" text-anchor="middle">0</text><text x="138.19" y="283.8" text-anchor="middle">200</text><text x="194.53" y="283.8" text-anchor="middle">400</text><text x="250.87" y="283.8" text-anchor="middle">600</text><text x="307.21" y="283.8" text-anchor="middle">800</text><text x="364.05" y="283.8" text-anchor="middle">1000</text><text x="420.79" y="283.8" text-anchor="middle">1200</text><text x="51.3" y="259.10" text-anchor="end">0</text><text x="51.3" y="212.99" text-anchor="end">2.4</text><text x="51.3" y="166.88" text-anchor="end">4.8</text><text x="51.3" y="120.77" text-anchor="end">7.2</text><text x="51.3" y="74.66" text-anchor="end">9.6</text><text x="51.3" y="28.55" text-anchor="end">12</text></g>
<g class="sf" stroke="#222" stroke-width="0.2">
<text y="305.5"><tspan x="215.5" font-size="17.35">Time</tspan><tspan x="257.6" font-size="17.6" letter-spacing="0.1">(M)</tspan></text>
<g transform="translate(15.0,0) rotate(-90) scale(1,0.925)" font-size="17.1">
<text y="0" x="-157.8" font-style="italic">r</text><text y="0" x="-151.0" textLength="7.4" lengthAdjust="spacingAndGlyphs">(</text><text y="0" x="-145.2" font-size="18.3">M</text><text y="0" x="-130.1" textLength="7.4" lengthAdjust="spacingAndGlyphs">)</text>
</g>
</g>
<g class="sf" font-size="12" stroke="#222" stroke-width="0.2">
<text y="27"><tspan x="319.3">GR</tspan><tspan x="340.6">vacuum</tspan></text>
<text x="206" y="41.00">f(R)</text><text x="229.5" y="41.00" font-style="italic">a</text><text x="235.6" y="43.30" font-size="8.6">2</text><text x="244.2" y="42.40" textLength="7.6" lengthAdjust="spacingAndGlyphs">=</text><text x="256" y="41.00">2.61877</text><text x="295.2" y="41.00">,</text><g fill="none" stroke="#222"><ellipse cx="303.5" cy="38.95" rx="2.55" ry="2.3" stroke-width="1.0" transform="rotate(-20 303.5 38.95)"/><line x1="305.9" y1="35.15" x2="302.0" y2="43.95" stroke-width="0.8"/></g><text x="307.2" y="43.30" font-size="8.6">0</text><text x="315.9" y="42.40" textLength="7.6" lengthAdjust="spacingAndGlyphs">=</text><text x="327.7" y="41.00">4.8</text><text x="345.4" y="41.60" font-size="15">×</text><text x="356.8" y="41.00">10</text><text x="368.2" y="37.10" font-size="8.6">−5</text>
<text x="235.6" y="55.00">f(R)</text><text x="259.3" y="55.00" font-style="italic">a</text><text x="265.4" y="57.30" font-size="8.6">2</text><text x="273.9" y="56.40" textLength="7.6" lengthAdjust="spacingAndGlyphs">=</text><text x="285.0" y="55.50" font-size="14.8">∞</text><text x="295.6" y="55.00">,</text><g fill="none" stroke="#222"><ellipse cx="303.5" cy="52.95" rx="2.55" ry="2.3" stroke-width="1.0" transform="rotate(-20 303.5 52.95)"/><line x1="305.9" y1="49.15" x2="302.0" y2="57.95" stroke-width="0.8"/></g><text x="307.2" y="57.30" font-size="8.6">0</text><text x="315.9" y="56.40" textLength="7.6" lengthAdjust="spacingAndGlyphs">=</text><text x="327.7" y="55.00">4.8</text><text x="345.4" y="55.60" font-size="15">×</text><text x="356.8" y="55.00">10</text><text x="368.2" y="51.10" font-size="8.6">−5</text>
</g>
<g fill="none" stroke-width="1.7">
<line x1="387" y1="24.4" x2="424" y2="24.4" stroke="#4169e1"/>
<line x1="387" y1="38.1" x2="424" y2="38.1" stroke="#b22222" stroke-dasharray="5.2,2.3"/>
<line x1="387" y1="51.8" x2="424" y2="51.8" stroke="#2e8b57" stroke-dasharray="2.7,3.5"/>
</g>
</svg>
</body></html>
